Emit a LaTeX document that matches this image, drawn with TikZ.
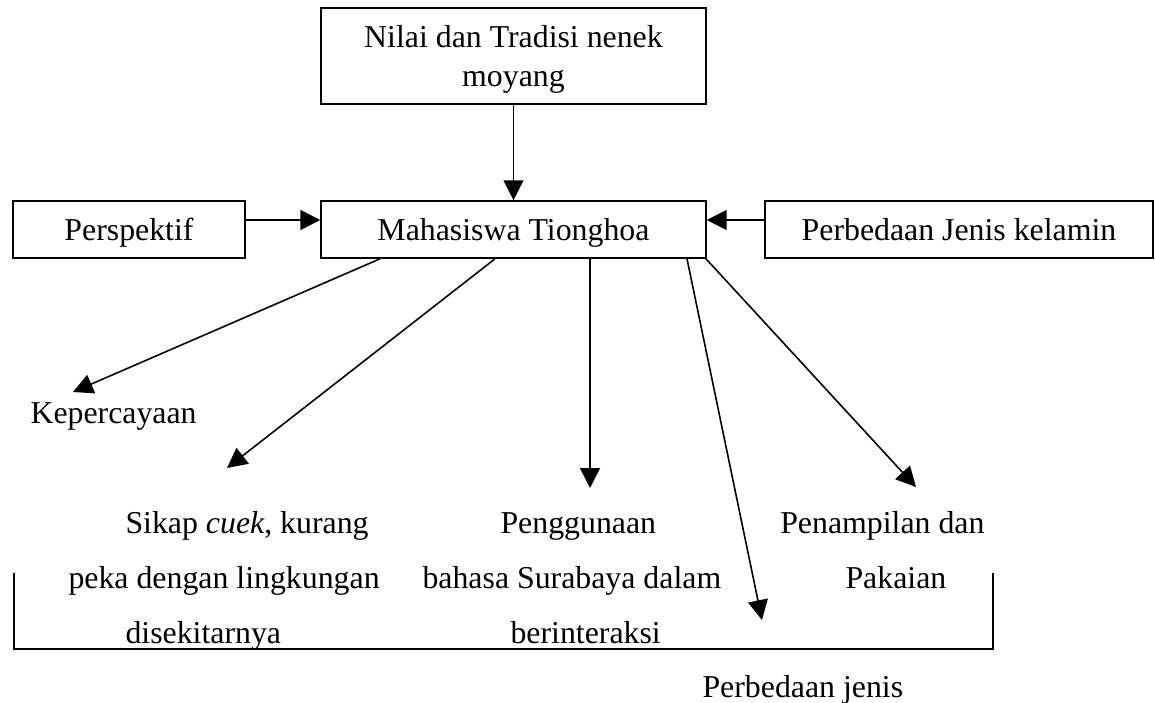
\documentclass[tikz,border=0pt]{standalone}
\usepackage{fontspec}
\setmainfont{Liberation Serif}
\usetikzlibrary{arrows.meta,calc}

\begin{document}
\begin{tikzpicture}[x=0.377pt,y=-0.377pt,font=\fontsize{12}{15}\selectfont,
    box/.style={draw,line width=0.6pt,inner sep=0pt,minimum height=21.5pt,text depth=0pt},
    arr/.style={-{Triangle[length=7.5pt,width=7.5pt]},line width=0.6pt},
    lbl/.style={inner sep=0pt,anchor=base west}]
    \useasboundingbox (0,0) rectangle (1155,703);

    \node[box,minimum width=145.1pt,minimum height=36.2pt,align=center] (nilai) at (513.5,56) {Nilai dan Tradisi nenek\\moyang};
    \node[box,minimum width=87.5pt] (persp) at (129,229.5) {Perspektif};
    \node[box,minimum width=145.1pt] (mhs) at (513.5,229.5) {Mahasiswa Tionghoa};
    \node[box,minimum width=146.3pt] (jenis) at (959,229.5) {Perbedaan Jenis kelamin};

    \draw[arr] (nilai.south) -- (mhs.north);
    \draw[arr] ($(persp.east)+(0,-9.5)$) -- ($(mhs.west)+(0,-9.5)$);
    \draw[arr] ($(jenis.west)+(0,-9.5)$) -- ($(mhs.east)+(0,-9.5)$);

    \coordinate (tipA) at (73,392);
    \coordinate (tipB) at (227,468);
    \coordinate (tipC) at (590,488);
    \coordinate (tipD) at (762,620);
    \coordinate (tipE) at (916,487);
    \foreach \dx/\tip in {-133.5/tipA, -18.5/tipB, 76.5/tipC, 173.5/tipD, 192.5/tipE} {
        \draw[arr] ($(mhs.south)+(\dx,0)$) -- (\tip);
    }

    \node[lbl] (kepercayaan) at (30,423) {Kepercayaan};
    \node[lbl] (sikapA) at (125,533) {Sikap \textit{cuek}, kurang};
    \node[lbl] (sikapB) at (68,588) {peka dengan lingkungan};
    \node[lbl] (sikapC) at (125,643) {disekitarnya};
    \node[lbl] (bahasaA) at (500,533) {Penggunaan};
    \node[lbl] (bahasaB) at (422,588) {bahasa Surabaya dalam};
    \node[lbl] (bahasaC) at (510,643) {berinteraksi};
    \node[lbl,anchor=base east] (tampilA) at (985,533) {Penampilan dan};
    \node[lbl] (tampilB) at (845,588) {Pakaian};
    \node[lbl] (jenisB) at (702,697) {Perbedaan jenis};

    \coordinate (brL) at (14,573);
    \coordinate (brR) at (993,573);
    \draw[line width=0.6pt] (brL) -- (14,649) -- (993,649) -- (brR);
\end{tikzpicture}
\end{document}
